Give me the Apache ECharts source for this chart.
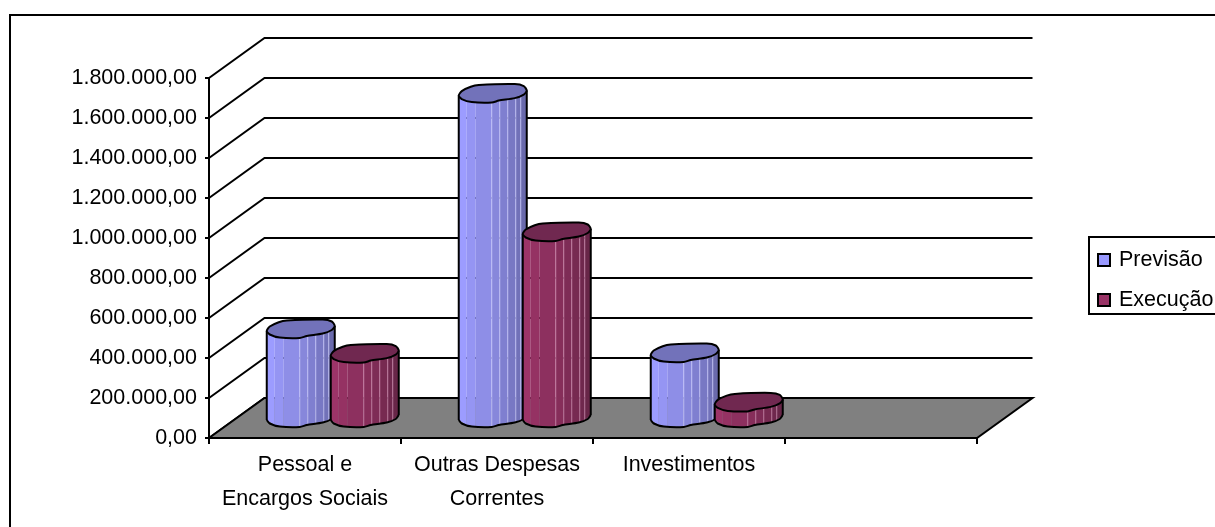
<!DOCTYPE html>
<html><head><meta charset="utf-8">
<script src="https://cdn.jsdelivr.net/npm/echarts@6/dist/echarts.min.js"></script>
<style>html,body{margin:0;padding:0;background:#fff;overflow:hidden}#c{width:1215px;height:527px}</style>
</head><body><div id="c"></div>
<script>
const categories = ['Pessoal e\nEncargos Sociais', 'Outras Despesas\nCorrentes', 'Investimentos', ''];
const previsao = [445000, 1622000, 325000];
const execucao = [322000, 930000, 78000];
const yTicks = [0, 200000, 400000, 600000, 800000, 1000000, 1200000, 1400000, 1600000, 1800000];
const FONT = '"Liberation Sans", Arial, sans-serif';

// outline of the cylinder cap, relative to its centre, for a 64px-wide bar
const frontEdge = [[-34,2],[-31,5.5],[-21,8.5],[-1,9],[6,7],[22,4.5],[31,1],[34,-3]];
const backEdge = [[34,-3],[31,-7.5],[22,-9.5],[-14,-8.5],[-22,-6.8],[-31,-2.5],[-34,2]];
const facetX = [-34,-26,-17,-1,7,15,23,28,34];
const litFrom = 3;

function edgeY(x){
  for(let i=0;i<frontEdge.length-1;i++){
    const a=frontEdge[i],b=frontEdge[i+1];
    if(x>=a[0]&&x<=b[0]) return a[1]+(b[1]-a[1])*(x-a[0])/(b[0]-a[0]);
  }
  return frontEdge[frontEdge.length-1][1];
}
function mix(c1,c2,t){
  return 'rgb('+c1.map((v,i)=>Math.round(v+(c2[i]-v)*t)).join(',')+')';
}
function depth(api){
  const band=api.size([1,0])[0];
  return {band, dx:band*55.5/192, dy:api.size([0,200000])[1]};
}
function cylinder(side, light, dark, top, lit){
  return function(params, api){
    const cat=api.value(0), val=api.value(1);
    const d=depth(api), k=d.band/192;
    const cx=api.coord([cat,0])[0]+side*d.band/6+d.dx/2;
    const base=api.coord([cat,0])[1]-d.dy/2;
    const topY=api.coord([cat,val])[1]-d.dy/2;
    const ch=[];
    for(let i=0;i<facetX.length-1;i++){
      const x0=facetX[i],x1=facetX[i+1];
      const y0=edgeY(x0),y1=edgeY(x1);
      ch.push({type:'polygon',shape:{points:[
        [cx+x0*k,topY+y0],[cx+x1*k,topY+y1],[cx+x1*k,base+y1],[cx+x0*k,base+y0]]},
        style:{fill:mix(light,dark,(i)/(facetX.length-2)),stroke:null}});
      if(i>=litFrom){
        ch.push({type:'line',shape:{x1:cx+x0*k,y1:topY+y0,x2:cx+x0*k,y2:base+y0},
          style:{stroke:lit,lineWidth:1}});
      }
    }
    const frontTop=frontEdge.map(p=>[cx+p[0]*k,topY+p[1]]);
    const backTop=backEdge.map(p=>[cx+p[0]*k,topY+p[1]]);
    const frontBase=frontEdge.map(p=>[cx+p[0]*k,base+p[1]]);
    ch.push({type:'polyline',shape:{points:frontBase,smooth:0.25},style:{fill:null,stroke:'#000',lineWidth:2}});
    ch.push({type:'line',shape:{x1:frontTop[0][0],y1:frontTop[0][1],x2:frontBase[0][0],y2:frontBase[0][1]},style:{stroke:'#000',lineWidth:2}});
    const last=frontEdge.length-1;
    ch.push({type:'line',shape:{x1:frontTop[last][0],y1:frontTop[last][1],x2:frontBase[last][0],y2:frontBase[last][1]},style:{stroke:'#000',lineWidth:2}});
    ch.push({type:'polygon',shape:{points:frontTop.concat(backTop.slice(1,-1)),smooth:0.25},
      style:{fill:top,stroke:'#000',lineWidth:2}});
    return {type:'group',children:ch};
  };
}

const chart=echarts.init(document.getElementById('c'),null,{renderer:'canvas'});
chart.setOption({
  animation:false,
  backgroundColor:'#fff',
  textStyle:{fontFamily:FONT},
  graphic:[{type:'rect',left:9,top:14,z:-10,silent:true,
    shape:{x:0,y:0,width:1400,height:900},style:{fill:'#fff',stroke:'#000',lineWidth:2}}],
  grid:{left:209,top:78,width:768,height:360,containLabel:false},
  legend:{
    left:1089,top:237,orient:'vertical',
    padding:[12,20,3,8],itemGap:18,itemWidth:12,itemHeight:12,
    borderColor:'#000',borderWidth:2,backgroundColor:'#fff',
    data:[{name:'Previsão',icon:'rect'},{name:'Execução',icon:'rect'}],
    textStyle:{fontSize:21.5,fontFamily:FONT,color:'#000',padding:[0,0,0,4]},
    itemStyle:{borderColor:'#000',borderWidth:2},
    selectedMode:false
  },
  xAxis:{
    type:'category',data:categories,boundaryGap:true,
    axisLine:{show:true,onZero:false,lineStyle:{color:'#000',width:2}},
    axisTick:{show:true,length:6,alignWithLabel:false,lineStyle:{color:'#000',width:2}},
    axisLabel:{interval:0,fontSize:21.5,fontFamily:FONT,color:'#000',lineHeight:34,margin:10},
    splitLine:{show:false}
  },
  yAxis:{
    type:'value',min:0,max:1800000,interval:200000,
    axisLine:{show:true,lineStyle:{color:'#000',width:2}},
    axisTick:{show:true,length:4,lineStyle:{color:'#000',width:2}},
    axisLabel:{fontSize:21.5,fontFamily:FONT,color:'#000',margin:12,
      formatter:v=>v.toLocaleString('pt-BR',{minimumFractionDigits:2,maximumFractionDigits:2})},
    splitLine:{show:false}
  },
  series:[
    {type:'custom',name:'walls',silent:true,z:1,data:yTicks.map(v=>[0,v]),
     encode:{x:0,y:1},
     renderItem(params,api){
       const d=depth(api);
       const p=api.coord([0,api.value(1)]);
       const left=p[0]-d.band/2, right=left+d.band*4;
       return {type:'polyline',shape:{points:[[left,p[1]],[left+d.dx,p[1]-d.dy],[right+d.dx,p[1]-d.dy]]},
         style:{fill:null,stroke:'#000',lineWidth:2}};
     }},
    {type:'custom',name:'floor',silent:true,z:2,data:[[0,0]],
     encode:{x:0,y:1},
     renderItem(params,api){
       const d=depth(api);
       const p=api.coord([0,0]);
       const left=p[0]-d.band/2, right=left+d.band*4;
       return {type:'polygon',shape:{points:[[left,p[1]],[left+d.dx,p[1]-d.dy],[right+d.dx,p[1]-d.dy],[right,p[1]]]},
         style:{fill:'#808080',stroke:'#000',lineWidth:2}};
     }},
    {type:'custom',name:'Previsão',silent:true,z:3,
     itemStyle:{color:'#9999FF',borderColor:'#000',borderWidth:2},
     data:previsao.map((v,i)=>[i,v]),encode:{x:0,y:1},
     renderItem:cylinder(-1,[156,156,255],[106,106,172],'#7272BA','rgba(205,205,255,0.75)')},
    {type:'custom',name:'Execução',silent:true,z:4,
     itemStyle:{color:'#993366',borderColor:'#000',borderWidth:2},
     data:execucao.map((v,i)=>[i,v]),encode:{x:0,y:1},
     renderItem:cylinder(1,[156,52,104],[104,38,72],'#702850','rgba(215,150,185,0.7)')}
  ]
});
</script></body></html>
